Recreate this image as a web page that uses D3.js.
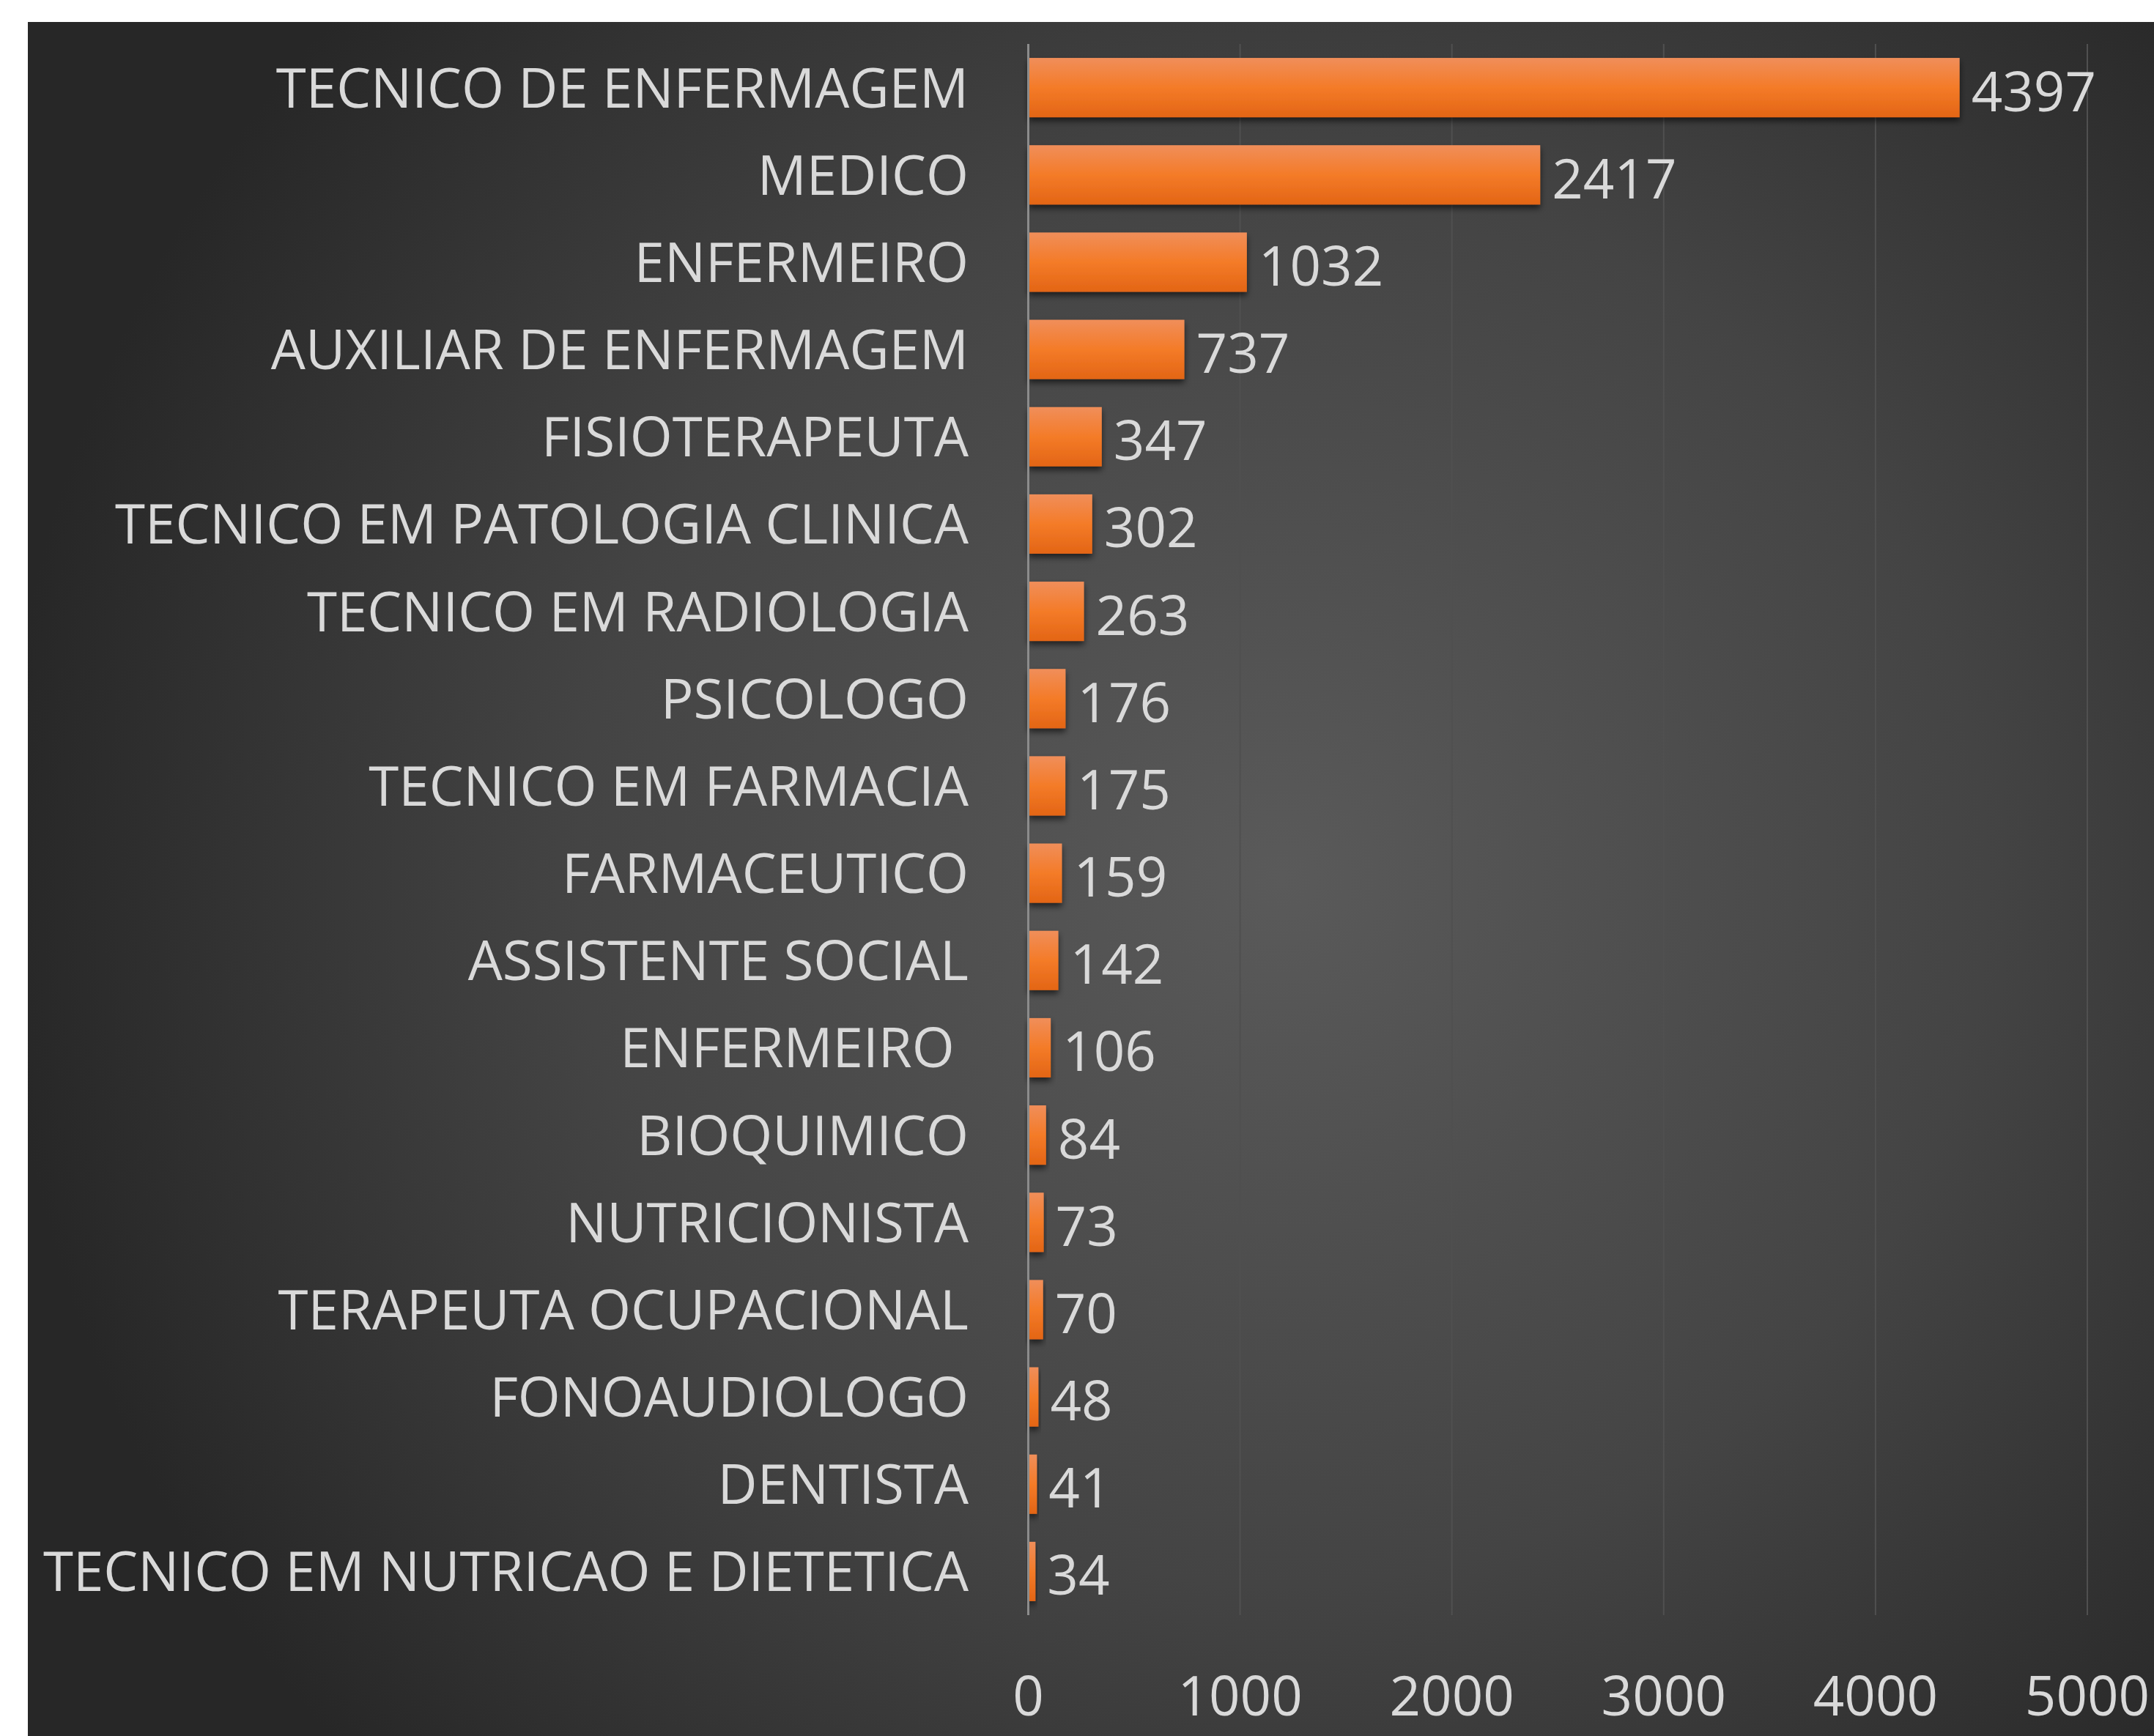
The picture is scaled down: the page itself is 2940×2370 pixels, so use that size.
<!DOCTYPE html>
<html>
<head>
<meta charset="utf-8">
<script src="https://cdn.jsdelivr.net/npm/d3@7"></script>
<style>
  html, body { margin: 0; padding: 0; background: #fff; }
  svg { display: block; }
  text { font-family: "Open Sans", sans-serif; white-space: pre; }
</style>
</head>
<body>
<script>
const categories = [
  "TECNICO DE ENFERMAGEM",
  "MEDICO",
  "ENFERMEIRO",
  "AUXILIAR DE ENFERMAGEM",
  "FISIOTERAPEUTA",
  "TECNICO EM PATOLOGIA CLINICA",
  "TECNICO EM RADIOLOGIA",
  "PSICOLOGO",
  "TECNICO EM FARMACIA",
  "FARMACEUTICO",
  "ASSISTENTE SOCIAL",
  "ENFERMEIRO ",
  "BIOQUIMICO",
  "NUTRICIONISTA",
  "TERAPEUTA OCUPACIONAL",
  "FONOAUDIOLOGO",
  "DENTISTA",
  "TECNICO EM NUTRICAO E DIETETICA"
];
const values = [4397, 2417, 1032, 737, 347, 302, 263, 176, 175, 159, 142, 106, 84, 73, 70, 48, 41, 34];
const xTicks = [0, 1000, 2000, 3000, 4000, 5000];

const W = 2940, H = 2370;
const svg = d3.select("body").append("svg").attr("width", W).attr("height", H);
const defs = svg.append("defs");

const bg = defs.append("radialGradient").attr("id", "bg")
  .attr("gradientUnits", "userSpaceOnUse")
  .attr("cx", 1750).attr("cy", 1200).attr("r", 1750);
bg.append("stop").attr("offset", "0").attr("stop-color", "#5a5a5a");
bg.append("stop").attr("offset", "0.55").attr("stop-color", "#444444");
bg.append("stop").attr("offset", "1").attr("stop-color", "#272727");

const barG = defs.append("linearGradient").attr("id", "barG")
  .attr("x1", 0).attr("y1", 0).attr("x2", 0).attr("y2", 1);
barG.append("stop").attr("offset", "0").attr("stop-color", "#f08e5a");
barG.append("stop").attr("offset", "0.5").attr("stop-color", "#f47b28");
barG.append("stop").attr("offset", "1").attr("stop-color", "#e36515");

const sh = defs.append("filter").attr("id", "shadow")
  .attr("x", "-20%").attr("y", "-20%").attr("width", "140%").attr("height", "160%");
sh.append("feDropShadow").attr("dx", 0).attr("dy", 5).attr("stdDeviation", 4)
  .attr("flood-color", "#000").attr("flood-opacity", 0.6);

svg.append("rect").attr("x", 0).attr("y", 0).attr("width", W).attr("height", H).attr("fill", "#fff");
svg.append("rect").attr("x", 38).attr("y", 30).attr("width", W - 38).attr("height", H - 30).attr("fill", "url(#bg)");

const x = d3.scaleLinear().domain([0, 5000]).range([1403.5, 2849]);
const y = d3.scaleBand().domain(categories).range([60, 2205]).paddingInner(0.32).paddingOuter(0.16);

// gridlines
svg.append("g").selectAll("line").data(xTicks.filter(d => d > 0)).join("line")
  .attr("x1", d => x(d)).attr("x2", d => x(d))
  .attr("y1", 60).attr("y2", 2205)
  .attr("stroke", "#505050").attr("stroke-width", 2);

// bars
svg.append("g").selectAll("rect").data(values).join("rect")
  .attr("x", x(0))
  .attr("y", (d, i) => y(categories[i]))
  .attr("width", d => x(d) - x(0))
  .attr("height", y.bandwidth())
  .attr("fill", "url(#barG)")
  .attr("filter", "url(#shadow)");

// axis line
svg.append("line").attr("x1", x(0)).attr("x2", x(0)).attr("y1", 60).attr("y2", 2205)
  .attr("stroke", "#8c8c8c").attr("stroke-width", 3);

const FS = 74.5;
const txt = "#d9d9d9";

// category labels
svg.append("g").selectAll("text").data(categories).join("text")
  .attr("x", 1322)
  .attr("y", d => y(d) + y.bandwidth() / 2 - 2)
  .attr("text-anchor", "end")
  .attr("dominant-baseline", "central")
  .attr("font-size", FS)
  .attr("fill", txt)
  .text(d => d);

// value labels
svg.append("g").selectAll("text").data(values).join("text")
  .attr("x", d => x(d) + 16)
  .attr("y", (d, i) => y(categories[i]) + y.bandwidth() / 2 + 3)
  .attr("dominant-baseline", "central")
  .attr("font-size", FS)
  .attr("fill", txt)
  .text(d => d);

// x tick labels
svg.append("g").selectAll("text").data(xTicks).join("text")
  .attr("x", d => x(d))
  .attr("y", 2313)
  .attr("text-anchor", "middle")
  .attr("dominant-baseline", "central")
  .attr("font-size", FS)
  .attr("fill", txt)
  .text(d => d);
</script>
</body>
</html>
